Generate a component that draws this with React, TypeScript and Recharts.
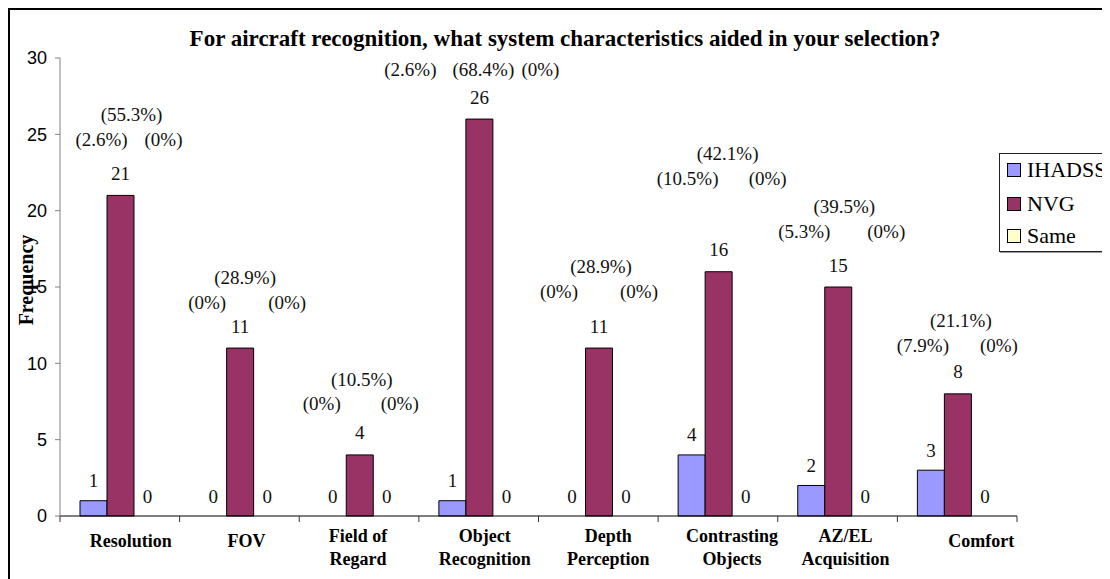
import React from "react";
import { BarChart, Bar, XAxis, YAxis, LabelList } from "recharts";

const CATEGORIES = [
  "Resolution",
  "FOV",
  "Field of Regard",
  "Object Recognition",
  "Depth Perception",
  "Contrasting Objects",
  "AZ/EL Acquisition",
  "Comfort",
];
const TICK_LINES = [
  ["Resolution"],
  ["FOV"],
  ["Field of", "Regard"],
  ["Object", "Recognition"],
  ["Depth", "Perception"],
  ["Contrasting", "Objects"],
  ["AZ/EL", "Acquisition"],
  ["Comfort"],
];
const IHADSS = [1, 0, 0, 1, 0, 4, 2, 3];
const NVG = [21, 11, 4, 26, 11, 16, 15, 8];
const SAME = [0, 0, 0, 0, 0, 0, 0, 0];
const IHADSS_PCT = [2.6, 0, 0, 2.6, 0, 10.5, 5.3, 7.9];
const NVG_PCT = [55.3, 28.9, 10.5, 68.4, 28.9, 42.1, 39.5, 21.1];
const SAME_PCT = [0, 0, 0, 0, 0, 0, 0, 0];
const Y_TICKS = [0, 5, 10, 15, 20, 25, 30];

const TITLE = "For aircraft recognition, what system characteristics aided in your selection?";

// label placement (px, relative to the NVG bar top / centre)
const PCT_LAYOUT = [
  { lift: 81, gap: 25, dx: 11, left: 30, right: 32 },
  { lift: 71, gap: 25, dx: 5, left: 38, right: 42 },
  { lift: 75, gap: 24, dx: 2, left: 40, right: 38 },
  { lift: 50, gap: 0, dx: 4, left: 73, right: 57 },
  { lift: 82, gap: 25, dx: 2, left: 42, right: 38 },
  { lift: 118, gap: 25, dx: 9, left: 40, right: 40 },
  { lift: 81, gap: 25, dx: 6, left: 40, right: 42 },
  { lift: 73, gap: 25, dx: 3, left: 38, right: 38 },
];
const TICK_DX = [11, 7, -1, 6, 10, 14, 8, 24];

const COLORS = { IHADSS: "#9999FF", NVG: "#993366", Same: "#FFFFCC" };
const SERIF = "'Liberation Serif', 'Times New Roman', serif";

const W = 1100;
const H = 569;
const PLOT_LEFT = 50;
const PLOT_RIGHT = 1007;
const PLOT_TOP = 48;
const PLOT_BOTTOM = 506;
const BAND = (PLOT_RIGHT - PLOT_LEFT) / CATEGORIES.length;

const data = CATEGORIES.map((name, i) => ({
  name,
  IHADSS: IHADSS[i],
  NVG: NVG[i],
  Same: SAME[i],
}));

const fmtPct = (v: number) => `(${v}%)`;

const textStyle = {
  textAnchor: "middle" as const,
  dominantBaseline: "central" as const,
  fontFamily: SERIF,
  fontSize: 19,
  fill: "#111",
};

// NVG bar carries all annotations of its category group, so zero-height
// neighbours still get their "0" labels.
const groupLabel = (props: any) => {
  const i = props.index;
  const L = PCT_LAYOUT[i];
  const bx = Number(props.x);
  const bw = Number(props.width);
  const top = Number(props.y);
  const base = top + Number(props.height);
  const nvgCx = bx + bw / 2;
  const cx = nvgCx + L.dx;
  const yMid = top - L.lift;
  const ySide = yMid + L.gap;
  return (
    <g>
      <text x={nvgCx} y={top - 22} {...textStyle}>{NVG[i]}</text>
      {IHADSS[i] === 0 && <text x={nvgCx - bw} y={base - 20} {...textStyle}>0</text>}
      {SAME[i] === 0 && <text x={nvgCx + bw} y={base - 20} {...textStyle}>0</text>}
      <text x={cx} y={yMid} {...textStyle}>{fmtPct(NVG_PCT[i])}</text>
      <text x={cx - L.left} y={ySide} {...textStyle}>{fmtPct(IHADSS_PCT[i])}</text>
      <text x={cx + L.right} y={ySide} {...textStyle}>{fmtPct(SAME_PCT[i])}</text>
    </g>
  );
};

const valueLabel = (props: any) => {
  if (!props.value) return null;
  const x = Number(props.x);
  const y = Number(props.y);
  const w = Number(props.width);
  return (
    <text x={x + w / 2} y={y - 20} {...textStyle}>
      {props.value}
    </text>
  );
};

const CategoryTick = (props: any) => {
  const { x, payload } = props;
  const i = payload.index;
  const lines = TICK_LINES[i];
  const left = x - BAND / 2;
  const ys = lines.length === 1 ? [531] : [526, 549];
  return (
    <g>
      <line x1={left} y1={PLOT_BOTTOM} x2={left} y2={PLOT_BOTTOM + 6} stroke="#333" />
      {i === CATEGORIES.length - 1 && (
        <line x1={x + BAND / 2} y1={PLOT_BOTTOM} x2={x + BAND / 2} y2={PLOT_BOTTOM + 6} stroke="#333" />
      )}
      {lines.map((t: string, k: number) => (
        <text
          key={k}
          x={x + TICK_DX[i]}
          y={ys[k]}
          textAnchor="middle"
          dominantBaseline="central"
          fontFamily={SERIF}
          fontWeight="bold"
          fontSize={18}
          fill="#000"
        >
          {t}
        </text>
      ))}
    </g>
  );
};

const LEGEND = [
  { name: "IHADSS", color: COLORS.IHADSS, cy: 15.5 },
  { name: "NVG", color: COLORS.NVG, cy: 49.5 },
  { name: "Same", color: COLORS.Same, cy: 81.5 },
];

export default function App() {
  return (
    <div
      style={{
        position: "relative",
        width: 1120,
        height: 600,
        border: "2px solid #000",
        boxSizing: "border-box",
        background: "#fff",
      }}
    >
      <style>{"html,body{overflow:hidden}"}</style>
      <BarChart
        width={W}
        height={H}
        data={data}
        margin={{ top: PLOT_TOP, right: W - PLOT_RIGHT, left: 0, bottom: 0 }}
        barCategoryGap={20}
        barGap={0}
      >
        <XAxis
          dataKey="name"
          height={H - PLOT_BOTTOM}
          stroke="#000"
          tickLine={false}
          tick={<CategoryTick />}
          interval={0}
        />
        <YAxis
          width={PLOT_LEFT}
          domain={[0, 30]}
          ticks={Y_TICKS}
          interval={0}
          stroke="#808080"
          tickSize={5}
          tickMargin={8}
          tick={{ fill: "#000", fontSize: 18, fontFamily: "'Liberation Sans', Arial, sans-serif" }}
        />
        <Bar dataKey="IHADSS" fill={COLORS.IHADSS} stroke="#000" strokeWidth={1} isAnimationActive={false}>
          <LabelList dataKey="IHADSS" content={valueLabel} />
        </Bar>
        <Bar dataKey="NVG" fill={COLORS.NVG} stroke="#000" strokeWidth={1} isAnimationActive={false}>
          <LabelList dataKey="NVG" content={groupLabel} />
        </Bar>
        <Bar dataKey="Same" fill={COLORS.Same} stroke="#000" strokeWidth={1} isAnimationActive={false}>
          <LabelList dataKey="Same" content={valueLabel} />
        </Bar>
      </BarChart>
      <svg
        width={W}
        height={H}
        style={{ position: "absolute", left: 0, top: 0, pointerEvents: "none" }}
      >
        <text
          x={555}
          y={36}
          textAnchor="middle"
          fontFamily={SERIF}
          fontWeight="bold"
          fontSize={23}
          fill="#000"
        >
          {TITLE}
        </text>
        <text
          x={15.5}
          y={270}
          textAnchor="middle"
          dominantBaseline="central"
          transform="rotate(-90 15.5 270)"
          fontFamily={SERIF}
          fontWeight="bold"
          fontSize={20}
          fill="#000"
        >
          Frequency
        </text>
      </svg>
      <div
        style={{
          position: "absolute",
          left: 989,
          top: 143,
          width: 140,
          height: 99,
          border: "1px solid #222",
          boxShadow: "1px 1px 0 #999",
          boxSizing: "border-box",
          background: "#fff",
        }}
      >
        {LEGEND.map((l) => (
          <div
            key={l.name}
            style={{
              position: "absolute",
              left: 7,
              top: l.cy - 13,
              height: 26,
              display: "flex",
              alignItems: "center",
              fontFamily: SERIF,
              fontSize: 22,
              color: "#000",
            }}
          >
            <span
              style={{
                display: "inline-block",
                width: 14,
                height: 14,
                background: l.color,
                border: "1px solid #000",
                boxSizing: "border-box",
                marginRight: 6,
              }}
            />
            {l.name}
          </div>
        ))}
      </div>
    </div>
  );
}
